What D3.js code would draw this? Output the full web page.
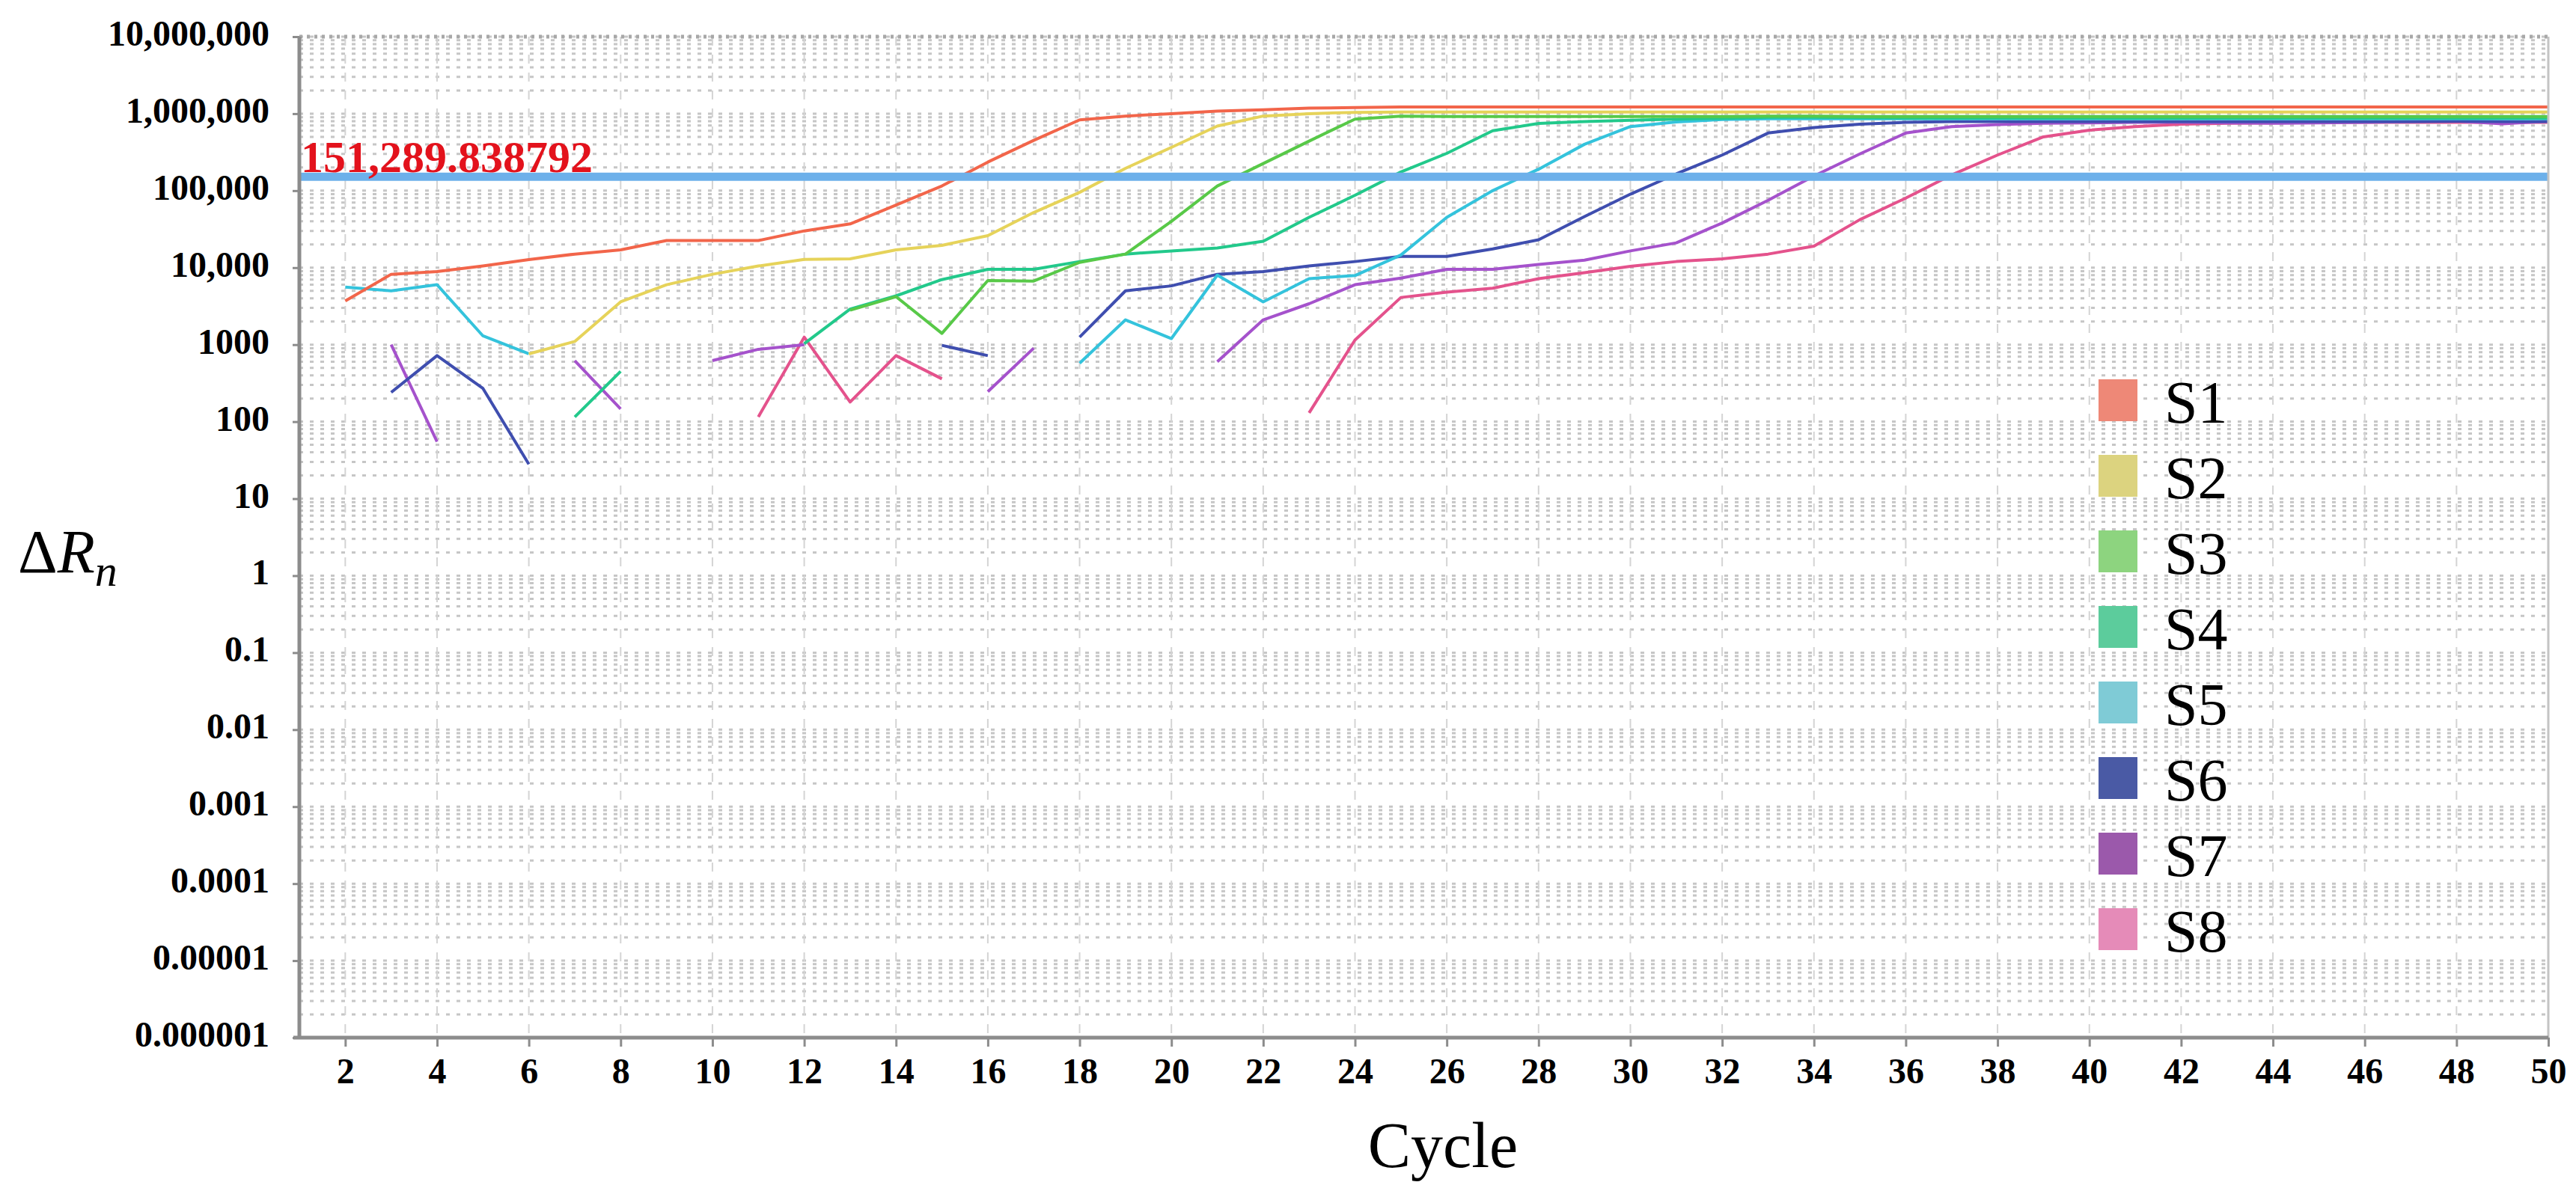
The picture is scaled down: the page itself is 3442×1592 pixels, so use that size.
<!DOCTYPE html>
<html>
<head>
<meta charset="utf-8">
<script src="https://cdn.jsdelivr.net/npm/d3@7"></script>
<style>
	body { margin: 0; background: #fff; }
	text { font-family: "Liberation Serif", "Times New Roman", serif; }
</style>
</head>
<body>
<svg id="chart"></svg>
<script>
// amplification plot, delta Rn on a log axis against cycle

let cycles = [2,3,4,5,6,7,8,9,10,11,12,13,14,15,16,17,18,19,20,21,22,23,24,25,26,
	27,28,29,30,31,32,33,34,35,36,37,38,39,40,41,42,43,44,45,46,47,48,49,50];

let seriesNames = ["S1", "S2", "S3", "S4", "S5", "S6", "S7", "S8"];

// values per cycle 2..50, null where the curve has a gap
let s1 = [3700, 8200, 8900, 10500, 12700, 15000, 17000, 22500, 22500, 22500, 30000, 37000, 65000,
	115000, 235000, 450000, 830000, 930000, 1000000, 1080000, 1120000, 1180000, 1200000,
	1220000, 1220000, 1220000, 1220000, 1220000, 1220000, 1220000, 1220000, 1220000, 1220000,
	1220000, 1220000, 1220000, 1220000, 1220000, 1220000, 1220000, 1220000, 1220000, 1220000,
	1220000, 1220000, 1220000, 1220000, 1220000, 1220000];
let s2 = [null, null, null, null, 760, 1100, 3600, 6000, 8200, 10500, 12800, 13000, 17000,
	19500, 26000, 52000, 95000, 195000, 365000, 690000, 930000, 1000000, 1040000,
	1050000, 1050000, 1050000, 1050000, 1050000, 1050000, 1050000, 1050000, 1050000, 1050000,
	1050000, 1050000, 1050000, 1050000, 1050000, 1050000, 1050000, 1050000, 1050000, 1050000,
	1050000, 1050000, 1050000, 1050000, 1050000, 1050000];
let s3 = [null, null, null, null, null, null, null, null, null, null, null, 2800, 4200,
	1400, 6800, 6700, 11700, 15000, 40000, 115000, 225000, 440000, 850000, 930000,
	920000, 920000, 920000, 920000, 920000, 920000, 920000, 930000, 930000, 920000, 920000,
	920000, 920000, 920000, 920000, 920000, 920000, 920000, 920000, 920000, 920000, 920000,
	920000, 920000, 920000];
let s4 = [null, null, null, null, null, 115, 450, null, null, null, 1030, 2900, 4300,
	7000, 9500, 9500, 12000, 15000, 16500, 18000, 22000, 45000, 87000, 175000, 305000,
	600000, 745000, 790000, 820000, 850000, 870000, 900000, 900000, 890000, 880000, 880000,
	880000, 880000, 880000, 880000, 880000, 880000, 880000, 880000, 880000, 880000, 880000,
	880000, 880000];
let s5 = [5600, 5000, 6000, 1300, 760, null, null, null, null, null, null, null, null,
	null, null, null, 575, 2100, 1200, 8000, 3600, 7200, 7900, 14600, 45000, 100000,
	190000, 400000, 680000, 780000, 840000, 860000, 860000, 860000, 860000, 860000, 860000,
	860000, 860000, 860000, 860000, 860000, 860000, 860000, 860000, 860000, 860000, 860000,
	860000];
let s6 = [null, 240, 720, 270, 28, null, null, null, null, null, null, null, null,
	980, 720, null, 1250, 5000, 5800, 8200, 8900, 10500, 12000, 14000, 14000, 17500, 23000,
	46000, 90000, 165000, 290000, 560000, 660000, 730000, 770000, 790000, 790000, 790000,
	790000, 790000, 790000, 790000, 790000, 790000, 790000, 790000, 800000, 790000, 790000];
let s7 = [null, 1000, 55, null, null, 620, 146, null, 620, 870, 1000, null, null,
	null, 245, 900, null, null, null, 600, 2100, 3400, 6000, 7300, 9500, 9500, 11000,
	12500, 16500, 21000, 38000, 75000, 155000, 300000, 560000, 680000, 720000, 750000,
	760000, 770000, 770000, 760000, 750000, 760000, 770000, 790000, 800000, 740000, 800000];
let s8 = [null, null, null, null, null, null, null, null, null, 115, 1250, 180, 720,
	360, null, null, null, null, null, null, null, 130, 1150, 4100, 4800, 5400, 7200,
	8600, 10400, 12000, 13000, 15000, 19000, 42000, 80000, 160000, 290000, 500000,
	610000, 680000, 730000, 750000, 760000, 770000, 770000, 770000, 770000, 770000, 770000];

let seriesValues = [s1, s2, s3, s4, s5, s6, s7, s8];

let lineColors = ["#f2654a", "#e6d35a", "#58c948", "#22c98b", "#34c3dc", "#3f4eaf", "#a552cc", "#e4528c"];
let legendColors = ["#ee8877", "#dcd37f", "#8dd47f", "#5ccc9c", "#7fcbd6", "#4a5aa5", "#9b59ab", "#e58bb8"];

let yTickValues = [1e7, 1e6, 1e5, 1e4, 1e3, 1e2, 1e1, 1, 1e-1, 1e-2, 1e-3, 1e-4, 1e-5, 1e-6];
let yTickLabels = ["10,000,000", "1,000,000", "100,000", "10,000", "1000", "100", "10", "1",
	"0.1", "0.01", "0.001", "0.0001", "0.00001", "0.000001"];
let xTickValues = [2,4,6,8,10,12,14,16,18,20,22,24,26,28,30,32,34,36,38,40,42,44,46,48,50];

let threshold = 151289.838792;
let thresholdLabel = "151,289.838792";

let svgWidth = 3442;
let svgHeight = 1592;
let plotLeft = 400, plotRight = 3405, plotTop = 49, plotBottom = 1387;

let svg = d3.select("#chart")
	.attr("width", svgWidth)
	.attr("height", svgHeight);

let x = d3.scaleLinear()
	.domain([1, 50])
	.range([plotLeft, plotRight]);

let y = d3.scaleLog()
	.domain([1e-6, 1e7])
	.range([plotBottom, plotTop]);

// grid: dotted rows at every log tick, dashed columns at even cycles
svg.append("g")
	.selectAll("line")
	.data(y.ticks(20))
	.join("line")
	.attr("x1", plotLeft)
	.attr("x2", plotRight)
	.attr("y1", d => y(d))
	.attr("y2", d => y(d))
	.attr("stroke", "#c6c6c6")
	.attr("stroke-width", 3)
	.attr("stroke-dasharray", "5,9");

svg.append("g")
	.selectAll("line")
	.data(xTickValues)
	.join("line")
	.attr("x1", d => x(d))
	.attr("x2", d => x(d))
	.attr("y1", plotTop)
	.attr("y2", plotBottom)
	.attr("stroke", "#d4d4d4")
	.attr("stroke-width", 2)
	.attr("stroke-dasharray", "12,12");

svg.append("clipPath")
	.attr("id", "plot-clip")
	.append("rect")
	.attr("x", plotLeft)
	.attr("y", plotTop)
	.attr("width", plotRight - plotLeft)
	.attr("height", plotBottom - plotTop);

let lineGenerator = d3.line()
	.defined(d => d.v != null)
	.x(d => x(d.c))
	.y(d => y(d.v));

let seriesData = seriesValues.map((vals, i) => ({
	name: seriesNames[i],
	points: cycles.map((c, j) => ({c: c, v: vals[j]}))
}));

// draw last series first so S1 ends up on top like the original
svg.append("g")
	.attr("clip-path", "url(#plot-clip)")
	.selectAll("path")
	.data(seriesData.slice().reverse())
	.join("path")
	.attr("d", d => lineGenerator(d.points))
	.attr("fill", "none")
	.attr("stroke", d => lineColors[seriesNames.indexOf(d.name)])
	.attr("stroke-width", 4)
	.attr("stroke-linejoin", "round");

// threshold
svg.append("line")
	.attr("x1", plotLeft)
	.attr("x2", plotRight)
	.attr("y1", y(threshold))
	.attr("y2", y(threshold))
	.attr("stroke", "#6db0ea")
	.attr("stroke-width", 11);

svg.append("text")
	.attr("x", plotLeft + 2)
	.attr("y", y(threshold) - 6)
	.attr("fill", "#e3121c")
	.style("font-size", "60px")
	.style("font-weight", "bold")
	.text(thresholdLabel);

// frame
svg.append("line")
	.attr("x1", plotLeft).attr("x2", plotRight)
	.attr("y1", plotTop).attr("y2", plotTop)
	.attr("stroke", "#a8a8a8")
	.attr("stroke-width", 5)
	.attr("stroke-dasharray", "4,6");

svg.append("line")
	.attr("x1", plotRight).attr("x2", plotRight)
	.attr("y1", plotTop).attr("y2", plotBottom)
	.attr("stroke", "#c4c4c4")
	.attr("stroke-width", 3);

let yAxis = d3.axisLeft(y)
	.tickValues(yTickValues)
	.tickFormat((d, i) => yTickLabels[i])
	.tickSize(9)
	.tickPadding(31);

let yAxisG = svg.append("g")
	.attr("transform", "translate(" + plotLeft + ",0)")
	.call(yAxis);

let xAxis = d3.axisBottom(x)
	.tickValues(xTickValues)
	.tickSize(12)
	.tickPadding(15);

let xAxisG = svg.append("g")
	.attr("transform", "translate(0," + plotBottom + ")")
	.call(xAxis);

[yAxisG, xAxisG].forEach(g => {
	g.select(".domain")
		.attr("stroke", "#8c8c8c")
		.attr("stroke-width", 5);
	g.selectAll(".tick line")
		.attr("stroke", "#8c8c8c")
		.attr("stroke-width", 3);
	g.selectAll(".tick text")
		.attr("fill", "#000")
		.style("font-family", "'Liberation Serif', serif")
		.style("font-size", "48px")
		.style("font-weight", "bold");
});
yAxisG.select(".domain").attr("d", "M0," + plotTop + "V" + plotBottom);
xAxisG.select(".domain").attr("d", "M" + (plotLeft - 8) + ",0H" + plotRight);
yAxisG.selectAll(".tick text").attr("dy", "0.24em");

// axis titles
let yTitle = svg.append("text")
	.attr("x", 24)
	.attr("y", 765)
	.style("font-size", "82px");
yTitle.append("tspan").text("\u0394");
yTitle.append("tspan").style("font-style", "italic").text("R");
yTitle.append("tspan")
	.style("font-style", "italic")
	.style("font-size", "60px")
	.attr("dy", 18)
	.text("n");

svg.append("text")
	.attr("x", 1928)
	.attr("y", 1560)
	.attr("text-anchor", "middle")
	.style("font-size", "86px")
	.text("Cycle");

// legend
let legend = svg.append("g")
	.selectAll("g")
	.data(seriesNames)
	.join("g")
	.attr("transform", (d, i) => "translate(2804," + (507 + i * 101) + ")");

legend.append("rect")
	.attr("width", 52)
	.attr("height", 56)
	.attr("fill", (d, i) => legendColors[i]);

legend.append("text")
	.attr("x", 88)
	.attr("y", 58)
	.style("font-size", "80px")
	.text(d => d);
</script>
</body>
</html>
